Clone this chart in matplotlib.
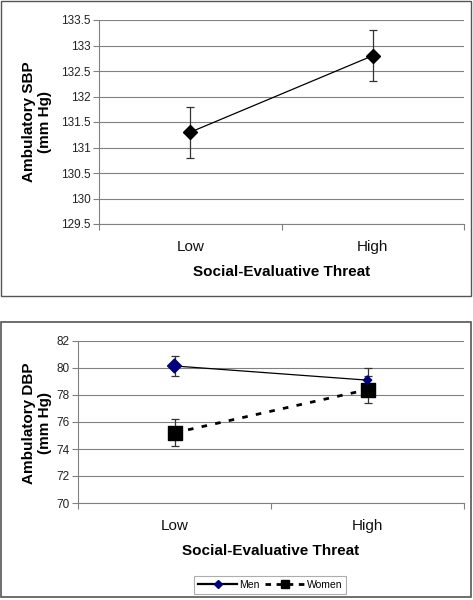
import matplotlib
matplotlib.use("Agg")
import matplotlib.pyplot as plt
from matplotlib.patches import Rectangle
from matplotlib.lines import Line2D
import matplotlib.transforms as mtransforms

plt.rcParams['font.family'] = ['Liberation Sans', 'DejaVu Sans']

categories = ["Low", "High"]
sbp = [131.3, 132.8]
sbp_err = [0.5, 0.5]
men_dbp = [80.15, 79.1]
men_err = [0.75, 0.9]
women_dbp = [75.2, 78.4]
women_err = [1.0, 1.0]

W, H = 473, 600
fig = plt.figure(figsize=(W / 100, H / 100), dpi=100)

def fx(px):
    return px / W

def fy(py):
    return 1 - py / H

grid_c = "#808080"

def style_axes(ax, ylim, yticks, yfmt):
    ax.set_xlim(0, 2)
    ax.set_ylim(*ylim)
    ax.set_yticks(yticks)
    ax.set_yticklabels([yfmt(v) for v in yticks], fontsize=8.5, color="#222222")
    ax.yaxis.grid(True, color=grid_c, lw=0.8)
    ax.set_axisbelow(True)
    for s in ["top", "right"]:
        ax.spines[s].set_visible(False)
    ax.spines["left"].set_color(grid_c)
    ax.spines["bottom"].set_color(grid_c)
    ax.tick_params(axis="y", length=4, color=grid_c, pad=2)
    ax.set_xticks([0, 1, 2])
    ax.set_xticklabels([])
    ax.tick_params(axis="x", length=4, color=grid_c)
    base = ax.get_xaxis_transform()
    t1 = base + mtransforms.ScaledTranslation(0, -23 / 100, fig.dpi_scale_trans)
    t2 = base + mtransforms.ScaledTranslation(0, -48 / 100, fig.dpi_scale_trans)
    for i, c in enumerate(categories):
        ax.text(i + 0.5, 0, c, transform=t1,
                ha="center", va="center", fontsize=11, color="#111111")
    ax.text(1.0, 0, "Social-Evaluative Threat", transform=t2,
            ha="center", va="center", fontsize=11, fontweight="bold")

xs = [0.5, 1.5]

# frames
fig.patches.append(Rectangle((fx(1), fy(296)), fx(471) - fx(1), fy(1) - fy(296),
                             transform=fig.transFigure, fill=False, ec="#555555", lw=1.0))
fig.patches.append(Rectangle((fx(1), fy(597)), fx(471) - fx(1), fy(322) - fy(597),
                             transform=fig.transFigure, fill=False, ec="#555555", lw=1.2))

# top panel
ax1 = fig.add_axes([fx(99), fy(224), fx(464) - fx(99), fy(20) - fy(224)])
style_axes(ax1, (129.5, 133.5), [129.5 + 0.5 * i for i in range(9)],
           lambda v: f"{v:g}")
ax1.errorbar(xs, sbp, yerr=sbp_err, color="black", lw=0.9, marker="D", ms=7,
             ecolor="#333333", elinewidth=0.9, capsize=3, capthick=0.9)
fig.text(fx(37), fy(122), "Ambulatory SBP\n(mm Hg)", rotation=90, ha="center", va="center",
         fontsize=11, fontweight="bold", linespacing=1.1)

# bottom panel
ax2 = fig.add_axes([fx(78), fy(503), fx(464) - fx(78), fy(341) - fy(503)])
style_axes(ax2, (70, 82), [70, 72, 74, 76, 78, 80, 82], lambda v: f"{v:g}")
ax2.errorbar(xs, men_dbp, yerr=men_err, color="black", lw=0.9, ecolor="#333333",
             elinewidth=0.9, capsize=3, capthick=0.9, zorder=3)
ax2.scatter(xs, men_dbp, marker="D", s=[50, 18], color="#00007f", zorder=5)
ax2.errorbar(xs, women_dbp, yerr=women_err, color="black", lw=2.0, ls=(0, (2, 3)),
             ecolor="#333333", elinewidth=0.9, capsize=3, capthick=0.9, zorder=3)
ax2.scatter(xs, women_dbp, marker="s", s=110, color="black", zorder=4)
fig.text(fx(37), fy(423), "Ambulatory DBP\n(mm Hg)", rotation=90, ha="center", va="center",
         fontsize=11, fontweight="bold", linespacing=1.1)

handles = [
    Line2D([], [], color="black", lw=1.6, marker="D", ms=4, mfc="#00007f", mec="#00007f"),
    Line2D([], [], color="black", lw=2.0, ls=(0, (2, 2)), marker="s", ms=6),
]
leg = fig.legend(handles, ["Men", "Women"], loc="center",
                 bbox_to_anchor=(fx(270), fy(585)), ncol=2, fontsize=7.5,
                 frameon=True, fancybox=False, edgecolor="#999999",
                 handlelength=3.8, handletextpad=0.2, columnspacing=0.5,
                 borderpad=0.35)
leg.get_frame().set_linewidth(0.8)

fig.savefig("out.png", dpi=100)
